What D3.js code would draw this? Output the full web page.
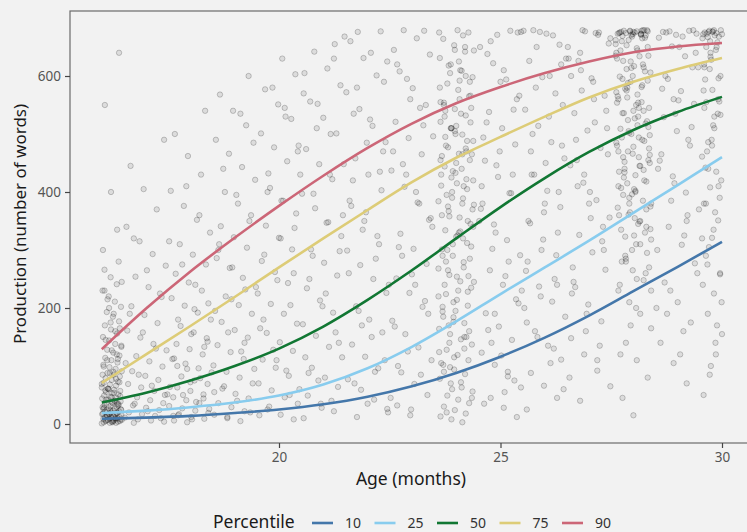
<!DOCTYPE html>
<html>
<head>
<meta charset="utf-8">
<script src="https://cdn.jsdelivr.net/npm/d3@7"></script>
<style>
  body { margin: 0; background: #f2f2f2; }
  svg { display: block; font-family: "Noto Sans", sans-serif; }
</style>
</head>
<body>
<div id="chart"></div>
<script>
// ages in months (each age gets one list of productions below)
var ages = [16, 17, 18, 19, 20, 21, 22, 23, 24, 25, 26, 27, 28, 29, 30];

// vocabulary production (number of words) of individual children, by age
var productionByAge = [
  [1,2,2,3,4,4,5,5,6,7,7,8,9,9,10,11,12,12,13,14,15,16,17,18,19,20,21,22,23,24,25,26,27,29,30,31,33,34,36,37,39,40,42,44,45,47,49,51,53,55,57,59,61,63,66,68,71,73,76,79,82,85,88,91,95,98,102,106,110,114,118,123,128,133,138,144,150,156,163,170,177,185,193,202,211,220,230,241,253,266,280,3,6,8,11,14,17,20,24,28,32,37,42,48,54,61,69,78,88,99,112,127,145,165,190,215,245,10,18,26,35,46,58,72,90,110,135,160,200,300,335,400,550,640,5,15,25,40,60,85,120,175,230],
  [2,4,6,8,11,14,17,20,24,28,32,36,41,46,51,57,63,69,76,83,91,99,108,117,127,138,149,161,174,188,203,219,236,254,273,293,315,340,370,405,445,10,22,35,50,66,85,105,130,158,190,225,265,320,490],
  [3,6,9,12,15,19,23,27,31,36,41,46,51,57,63,69,75,82,89,96,104,112,120,129,138,148,158,169,180,192,204,217,230,244,259,275,292,310,330,352,376,402,430,462,500,540,8,17,26,38,50,64,79,95,113,133,155,180,208,240,275,315,360,410,14,44,72,100,142,198],
  [5,10,16,22,29,36,44,52,61,70,80,90,101,112,124,136,149,162,176,190,205,220,236,252,269,286,304,322,341,360,380,400,421,443,466,490,515,540,568,20,40,65,95,125,158,195,232,270,310,350,395,440,485,535,12,55,140,215,300,600],
  [8,16,25,35,46,58,70,83,97,111,126,141,157,173,190,207,225,243,262,281,301,321,342,363,385,407,430,453,477,501,526,551,577,603,630,30,60,92,128,165,205,248,292,338,385,432,480,530,580,15,50,110,180,260,320,400,470,545],
  [10,22,35,49,64,80,97,115,133,152,172,192,213,234,256,278,301,324,348,372,397,422,448,474,501,528,556,584,613,642,668,40,75,115,158,203,250,298,347,397,448,500,552,605,655,28,88,140,225,290,360,430,510,570,630],
  [12,26,42,59,77,96,116,137,158,180,203,226,250,274,299,324,350,376,403,430,458,486,514,543,572,601,631,660,677,35,70,110,150,195,240,285,335,385,435,485,535,590,640,676,20,90,170,260,310,365,420,470,525,580,625],
  [15,32,50,69,89,110,132,155,178,202,226,251,276,302,328,355,382,409,437,465,493,521,550,579,608,637,665,679,45,85,125,168,212,258,305,352,400,448,496,545,595,645,678,25,100,190,240,290,340,380,430,470,515,560,620],
  [3,8,13,18,24,30,36,42,49,56,63,70,78,86,94,102,110,119,128,137,146,155,164,174,184,194,204,214,224,235,246,257,268,279,290,301,312,323,334,345,356,367,378,389,400,411,422,433,444,455,466,477,488,499,510,521,532,543,554,565,576,587,598,609,620,631,642,653,664,675,679,20,45,72,98,124,150,176,202,228,254,280,306,332,358,384,410,436,462,488,514,540,566,592,618,644,670,60,105,150,195,240,285,330,375,420,465,510,555,600,645,90,160,230,300,370,440,510,580,650,115,185,255,325,395,465,535,605,675,130,210,290,350,415,480,545,610,140,220,270,310,360,405,450,495,520,560,170,245,320,390,430,470,500,530,590,625,265,340,380,425,455,475,505,550],
  [12,28,45,63,82,102,123,145,168,191,215,240,265,291,317,344,371,398,426,454,482,510,538,566,594,622,650,678,671,35,75,118,162,208,255,302,350,398,446,494,542,590,638,675,55,140,230,280,330,380,430,470,520,560,610,660,676,90,190,410],
  [25,45,66,88,111,135,160,185,211,237,264,291,318,346,374,402,430,458,486,514,542,570,598,626,654,673,679,60,105,150,200,250,300,350,400,450,500,550,600,650,678,130,220,280,330,380,430,480,530,580,630,670,676,175,240,365,470,620],
  [40,65,92,120,148,177,206,236,266,296,326,356,386,416,446,476,506,536,566,596,626,656,674,679,80,135,190,245,300,355,410,465,520,575,630,675,160,270,340,400,455,510,560,610,650,671,677,225,315,380,490,540,590,640,665,110,430,600],
  [15,45,80,110,140,165,190,210,230,248,265,280,295,310,323,336,349,361,373,385,396,407,418,429,440,450,460,470,480,490,500,509,518,527,536,545,554,563,572,581,590,599,608,617,626,635,644,653,662,671,678,674,679,676,669,677,250,285,318,350,380,410,438,466,494,522,550,578,606,634,662,673,679,300,335,370,402,434,464,494,524,554,584,614,644,670,675,678,270,345,415,485,555,625,675,666,325,395,455,515,575,635,672,677,360,420,478,536,592,648,674,230,310,390,470,540,600,660,679,200,290,375,445,505,565,620,668,676,340,400,452,498,545,588,630,665,671,120,260,355,425,475,530,580,640,678,170,240,330,405,460,512,568,612,655,673,365,435,488,540,595,650,677,280,380,445,502,560,615,672],
  [70,105,140,175,210,244,277,309,340,370,399,427,454,480,505,529,552,574,595,615,634,651,666,678,671,676,679,120,190,260,325,385,440,490,535,578,615,650,675,673,160,230,300,360,415,465,512,558,600,640,668,677,200,350,560],
  [50,85,120,155,190,225,258,290,321,351,380,408,435,461,486,510,533,555,576,596,615,633,650,665,676,670,679,673,677,668,675,100,170,240,305,365,420,470,515,556,594,628,658,672,678,140,210,275,335,390,442,490,535,575,612,645,672,667,679,260,380,480,560,620,660,674,320,440,530,600,650,676,410,545,640]
];

// fitted percentile curves, read at each age
var percentiles = ["10", "25", "50", "75", "90"];
var p10 = [9, 11, 14, 19, 25, 34, 47, 65, 88, 116, 149, 187, 229, 271, 314];
var p25 = [19, 23, 29, 37, 49, 68, 96, 133, 177, 224, 270, 316, 364, 412, 460];
var p50 = [37, 54, 75, 100, 130, 168, 214, 265, 320, 374, 424, 469, 507, 538, 564];
var p75 = [71, 120, 169, 219, 270, 320, 369, 417, 459, 495, 530, 563, 590, 612, 631];
var p90 = [129, 199, 263, 321, 376, 428, 476, 518, 553, 581, 605, 625, 641, 651, 657];
var curves = [p10, p25, p50, p75, p90];
var colors = ["#4477aa", "#88ccee", "#117733", "#ddcc77", "#cc6677"];

var width = 747, height = 532;
var panel = { left: 70, top: 11, bottom: 443 };

var svg = d3.select("#chart").append("svg")
    .attr("width", width)
    .attr("height", height);

var x = d3.scaleLinear().domain([16, 30]).range([101.8, 722]);
var y = d3.scaleLinear().domain([0, 600]).range([424, 76]);

// panel frame (right side runs off the picture)
svg.append("rect")
    .attr("x", panel.left).attr("y", panel.top)
    .attr("width", width + 20 - panel.left)
    .attr("height", panel.bottom - panel.top)
    .attr("fill", "#f2f2f2")
    .attr("stroke", "#6b6b6b")
    .attr("stroke-width", 1.2);

// jittered points (the busy visits sit in tighter columns)
var points = [];
ages.forEach(function (a, j) {
    var w = (a === 24 || a === 28) ? 0.4 : 0.48;
    productionByAge[j].forEach(function (v, i) {
        var f = ((i * 37 + j * 11) % 53) / 52;
        var off = a === 16 ? f * 0.45 : a === 30 ? -f * 0.45 : (f * 2 - 1) * w;
        points.push({ age: a + off, value: v });
    });
});

svg.append("g")
    .selectAll("circle")
    .data(points)
    .enter().append("circle")
    .attr("cx", function (d) { return x(d.age); })
    .attr("cy", function (d) { return y(d.value); })
    .attr("r", 2.7)
    .attr("fill", "rgba(0,0,0,0.09)")
    .attr("stroke", "rgba(0,0,0,0.25)")
    .attr("stroke-width", 0.8);

var line = d3.line()
    .x(function (d, i) { return x(ages[i]); })
    .y(function (d) { return y(d); })
    .curve(d3.curveCatmullRom);

svg.append("g")
    .selectAll("path")
    .data(curves)
    .enter().append("path")
    .attr("d", line)
    .attr("fill", "none")
    .attr("stroke", function (d, i) { return colors[i]; })
    .attr("stroke-width", 2.6);

// axes
var xAxis = svg.append("g")
    .attr("transform", "translate(0," + panel.bottom + ")")
    .call(d3.axisBottom(x).tickValues([20, 25, 30]).tickSize(5).tickPadding(4));
var yAxis = svg.append("g")
    .attr("transform", "translate(" + panel.left + ",0)")
    .call(d3.axisLeft(y).tickValues([0, 200, 400, 600]).tickSize(5).tickPadding(4));

[xAxis, yAxis].forEach(function (ax) {
    ax.select(".domain").remove();
    ax.selectAll(".tick line").attr("stroke", "#444").attr("stroke-width", 1.2);
    ax.selectAll(".tick text")
        .attr("fill", "#555")
        .style("font-size", "13.5px")
        .style("font-family", "Noto Sans, sans-serif");
});

svg.append("text")
    .attr("x", 411).attr("y", 485)
    .attr("text-anchor", "middle")
    .attr("fill", "#1a1a1a")
    .style("font-size", "17.5px")
    .text("Age (months)");

svg.append("text")
    .attr("transform", "translate(26,224) rotate(-90)")
    .attr("text-anchor", "middle")
    .attr("fill", "#1a1a1a")
    .style("font-size", "17px")
    .text("Production (number of words)");

// legend
var legend = svg.append("g").attr("transform", "translate(0,523)");
legend.append("text")
    .attr("x", 213).attr("y", 5)
    .attr("fill", "#1a1a1a")
    .style("font-size", "17.5px")
    .text("Percentile");

var item = legend.selectAll(".item")
    .data(percentiles)
    .enter().append("g")
    .attr("class", "item")
    .attr("transform", function (d, i) { return "translate(" + (312 + i * 62.5) + ",0)"; });
item.append("line")
    .attr("x1", 0).attr("x2", 21)
    .attr("stroke", function (d, i) { return colors[i]; })
    .attr("stroke-width", 2.6);
item.append("text")
    .attr("x", 33).attr("y", 5)
    .attr("fill", "#333")
    .style("font-size", "14px")
    .text(function (d) { return d; });
</script>
</body>
</html>
